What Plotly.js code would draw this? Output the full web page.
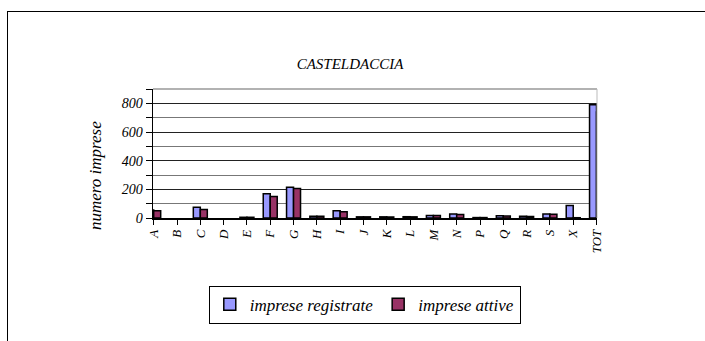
<!DOCTYPE html>
<html><head><meta charset="utf-8">
<script src="https://cdn.plot.ly/plotly-3.0.1.min.js"></script>
<style>
html,body{margin:0;padding:0;background:#fff;}
#frame{position:absolute;left:7px;top:11px;width:720px;height:360px;border-left:1px solid #000;border-top:1px solid #000;pointer-events:none;z-index:5;}
#chart{position:absolute;left:0;top:0;width:705px;height:341px;}
</style></head>
<body>
<div id="chart"></div>
<div id="frame"></div>
<script>
const categories = ["A","B","C","D","E","F","G","H","I","J","K","L","M","N","P","Q","R","S","X","TOT"];
const impreseRegistrate = [55,0,75,0,5,170,215,13,50,8,8,9,18,28,3,15,12,28,87,790];
const impreseAttive     = [50,0,60,0,5,150,205,12,43,8,7,8,17,25,3,14,11,26,2,740];
const yTicks = [0,200,400,600,800];
const yMinorTicks = [100,300,500,700,900];

const font = {family:'Liberation Serif', color:'#000'};
const lw = v => v.map(d => d > 0 ? 1.5 : 0);
const traces = [
  {type:'bar', name:'<i>imprese registrate</i>', x:categories, y:impreseRegistrate,
   marker:{color:'#9999FF', line:{color:'#000', width:lw(impreseRegistrate)}}},
  {type:'bar', name:'<i>imprese attive</i>', x:categories, y:impreseAttive,
   marker:{color:'#993366', line:{color:'#000', width:lw(impreseAttive)}}}
];
const layout = {
  width:705, height:341,
  margin:{l:153, r:108, t:89, b:123},
  paper_bgcolor:'#fff', plot_bgcolor:'#fff',
  font:Object.assign({}, font, {size:13}),
  showlegend:true,
  barmode:'group', bargap:0.4, bargroupgap:0,
  title:{text:'<i>CASTELDACCIA</i>', x:350/705, xanchor:'center', y:1-64/341, yanchor:'middle',
         font:Object.assign({}, font, {size:15})},
  xaxis:{type:'category', range:[-0.03, 19.02], tickangle:-90,
         tickfont:Object.assign({}, font, {size:13}),
         ticks:'outside', ticklen:5, tickcolor:'#000',
         showline:true, linecolor:'#000', linewidth:1.5, mirror:false,
         showgrid:false, fixedrange:true,
         tickvals:categories, ticktext:categories.map(c=>'<i>'+c+'</i>')},
  yaxis:{range:[0,900], tickvals:yTicks, ticktext:yTicks.map(v=>'<i>'+v+'</i>'),
         tickfont:Object.assign({}, font, {size:14}),
         ticks:'outside', ticklen:6, tickcolor:'#000',
         showline:true, linecolor:'#000', linewidth:1.5,
         showgrid:true, gridcolor:'#222', gridwidth:1,
         minor:{tickvals:yMinorTicks, ticks:'outside', ticklen:6, tickcolor:'#000', showgrid:true, gridcolor:'#777', gridwidth:1},
         zeroline:false},
  annotations:[
    {text:'<i>numero imprese</i>', xref:'paper', yref:'paper', x:(95-153)/444, y:(217.7-176)/128.2,
     xanchor:'center', yanchor:'middle', textangle:-90, showarrow:false,
     font:Object.assign({}, font, {size:17})}
  ],
  legend:{orientation:'h', x:0.477, xanchor:'center', y:-0.525, yanchor:'top',
          bordercolor:'#000', borderwidth:1, bgcolor:'#fff',
          font:Object.assign({}, font, {size:17}), itemwidth:30, traceorder:'normal'},
  shapes:[
    {type:'line', xref:'paper', yref:'paper', x0:0, x1:1, y0:1, y1:1, line:{color:'#999', width:1.5}},
    {type:'line', xref:'paper', yref:'paper', x0:1, x1:1, y0:0, y1:1, line:{color:'#bbb', width:1}}
  ]
};
Plotly.newPlot('chart', traces, layout, {displayModeBar:false, staticPlot:true});
</script>
</body></html>
